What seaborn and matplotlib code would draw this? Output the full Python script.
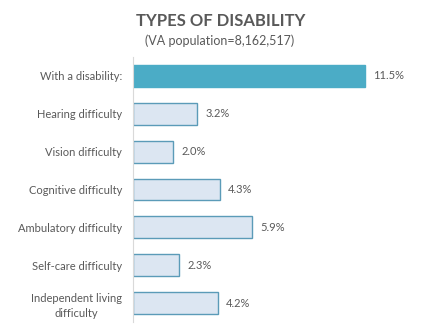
import matplotlib
matplotlib.use("Agg")
import matplotlib.pyplot as plt
import seaborn as sns
import pandas as pd

categories = [
    "With a disability:",
    "Hearing difficulty",
    "Vision difficulty",
    "Cognitive difficulty",
    "Ambulatory difficulty",
    "Self-care difficulty",
    "Independent living\ndifficulty",
]
values = [11.5, 3.2, 2.0, 4.3, 5.9, 2.3, 4.2]
value_labels = ["11.5%", "3.2%", "2.0%", "4.3%", "5.9%", "2.3%", "4.2%"]

sns.set_theme(style="white")
plt.rcParams["font.family"] = ["Lato", "DejaVu Sans"]

W, H = 437, 329
fig = plt.figure(figsize=(W / 100, H / 100), dpi=100)
ax = fig.add_axes([133 / W, 1 - 322 / H, (425 - 133) / W, (322 - 57) / H])

df = pd.DataFrame({"category": categories, "value": values})
sns.barplot(data=df, x="value", y="category", ax=ax, width=0.58,
            color="#DCE6F2", saturation=1)

text_color = "#595959"
for i, patch in enumerate(ax.patches):
    if i == 0:
        patch.set_facecolor("#4BACC6")
        patch.set_edgecolor("#4BACC6")
    else:
        patch.set_facecolor("#DCE6F2")
        patch.set_edgecolor("#5B9BB8")
    patch.set_linewidth(1.0)

for i, (v, lab) in enumerate(zip(values, value_labels)):
    ax.text(v + 0.4, i, lab, va="center", ha="left", fontsize=8,
            color=text_color)

ax.set_xlim(0, 14.5)
ax.set_ylim(6.5, -0.5)
ax.set_xlabel("")
ax.set_ylabel("")
ax.set_xticks([])
ax.tick_params(axis="y", length=0, pad=8, labelsize=8, labelcolor=text_color)
for lab in ax.get_yticklabels():
    lab.set_horizontalalignment("right")
    lab.set_multialignment("center")
    lab.set_linespacing(1.45)
for s in ["top", "right", "bottom"]:
    ax.spines[s].set_visible(False)
ax.spines["left"].set_color("#D9D9D9")
ax.spines["left"].set_linewidth(0.8)

fig.text(0.5 + 2 / W, 1 - 21 / H, "TYPES OF DISABILITY", ha="center", va="center",
         fontsize=12, fontweight="bold", color=text_color)
fig.text(0.5 + 1 / W, 1 - 41 / H, "(VA population=8,162,517)", ha="center",
         va="center", fontsize=9, color=text_color)

fig.savefig("out.png", dpi=100, facecolor="white")
